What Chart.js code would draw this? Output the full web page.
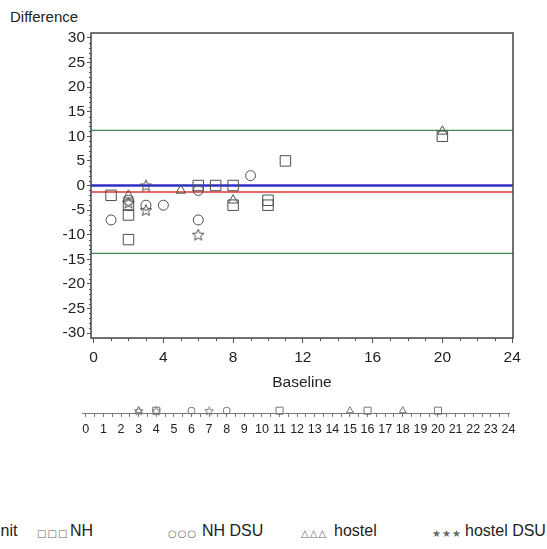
<!DOCTYPE html>
<html>
<head>
<meta charset="utf-8">
<script src="https://cdn.jsdelivr.net/npm/chart.js@4.4.1/dist/chart.umd.min.js"></script>
<style>
  body { margin: 0; width: 547px; height: 549px; overflow: hidden; background: #fff; position: relative;
         font-family: "Liberation Sans", Arial, sans-serif; color: #222; }
  #main { position: absolute; left: 0; top: 0; }
  #rug { position: absolute; left: 0; top: 380px; }
  #ytitle { position: absolute; left: 10px; top: 8px; font-size: 15px; line-height: 18px; }
  #legend { position: absolute; left: 0; top: 522px; width: 547px; height: 20px; font-size: 16px; line-height: 18px; white-space: nowrap; }
  #legend span { position: absolute; top: 0; }
  #legend span.sym { font-size: 10px; color: #666; letter-spacing: 1px; top: 3px; font-family: "DejaVu Sans", sans-serif; }
</style>
</head>
<body>
<div id="ytitle">Difference</div>
<canvas id="main" width="547" height="400"></canvas>
<canvas id="rug" width="547" height="70"></canvas>
<div id="legend">
  <span style="left:-11px">Unit</span>
  <span class="sym" style="left:37px">□□□</span><span style="left:70px">NH</span>
  <span class="sym" style="left:168px">○○○</span><span style="left:202px">NH DSU</span>
  <span class="sym" style="left:301px">△△△</span><span style="left:334px">hostel</span>
  <span class="sym" style="left:432px">★★★</span><span style="left:465px">hostel DSU</span>
</div>
<script>
// baseline vs. difference, one array pair per unit type
const nhX = [1, 2, 2, 2, 6, 7, 8, 8, 10, 10, 11, 20];
const nhY = [-2, -4, -6, -11, 0, 0, 0, -4, -3, -4, 5, 10];
const nhDsuX = [1, 2, 3, 4, 6, 6, 9];
const nhDsuY = [-7, -3, -4, -4, -1, -7, 2];
const hostelX = [2, 5, 8, 20];
const hostelY = [-2, -1, -3, 11];
const hostelDsuX = [2, 3, 3, 6];
const hostelDsuY = [-3.5, 0, -5, -10];

// mean difference and limits of agreement
const meanDiff = -1.3;
const limits = [11.2, -13.8];
const zeroLevel = 0;

const xTicks = [0, 4, 8, 12, 16, 20, 24];
const yTicks = [-30, -25, -20, -15, -10, -5, 0, 5, 10, 15, 20, 25, 30];

// strip along the bottom
const rugNhX = [4, 11, 16, 20];
const rugNhDsuX = [6, 8];
const rugHostelX = [3, 15, 18];
const rugHostelDsuX = [3, 4, 7];
const rugLabels = [0, 1, 2, 3, 4, 5, 6, 7, 8, 9, 10, 11, 12, 13, 14, 15, 16, 17, 18, 19, 20, 21, 22, 23, 24];

const markColor = '#4d4d4d';
const xMin = -0.15, xMax = 24.05;

function pairs(xs, ys) { return xs.map((x, i) => ({ x: x, y: ys[i] })); }

function starImage(outer, color) {
  const size = Math.ceil(outer * 2 + 2);
  const c = document.createElement('canvas');
  c.width = size; c.height = size;
  const g = c.getContext('2d');
  const cx = size / 2, cy = size / 2 + 0.5, inner = outer * 0.45;
  g.beginPath();
  for (let i = 0; i < 10; i++) {
    const r = i % 2 ? inner : outer;
    const a = -Math.PI / 2 + i * Math.PI / 5;
    const px = cx + r * Math.cos(a), py = cy + r * Math.sin(a);
    i ? g.lineTo(px, py) : g.moveTo(px, py);
  }
  g.closePath();
  g.strokeStyle = color;
  g.lineWidth = 1;
  g.stroke();
  return c;
}

function hline(y, color, width) {
  return {
    type: 'line', data: [{ x: xMin, y: y }, { x: xMax, y: y }],
    borderColor: color, borderWidth: width, pointRadius: 0, order: 2
  };
}

function marks(data, style, radius) {
  return {
    type: 'scatter', data: data, pointStyle: style, pointRadius: radius,
    borderColor: markColor, borderWidth: 1, backgroundColor: 'rgba(0,0,0,0)', order: 1
  };
}

// box around the plot plus the small unlabelled ticks
const framePlugin = {
  id: 'frame',
  afterDatasetsDraw(chart) {
    const { ctx, chartArea: a, scales: { x, y } } = chart;
    ctx.save();
    ctx.strokeStyle = '#555';
    ctx.lineWidth = 1;
    ctx.beginPath();
    for (let v = 1; v < 24; v++) {
      if (v % 4 === 0) continue;
      const px = Math.round(x.getPixelForValue(v)) + 0.5;
      ctx.moveTo(px, a.bottom); ctx.lineTo(px, a.bottom + 3);
    }
    for (let v = -30; v <= 30; v++) {
      if (v % 5 === 0) continue;
      const py = Math.round(y.getPixelForValue(v)) + 0.5;
      ctx.moveTo(a.left, py); ctx.lineTo(a.left - 2, py);
    }
    ctx.stroke();
    ctx.strokeStyle = '#444';
    ctx.lineWidth = 1.5;
    ctx.strokeRect(a.left, a.top, a.right - a.left, a.bottom - a.top);
    ctx.restore();
  }
};

const tickFont = { family: '"Liberation Sans", Arial, sans-serif', size: 15.5 };

new Chart(document.getElementById('main'), {
  data: {
    datasets: [
      hline(limits[0], '#3c8c50', 1.2),
      hline(limits[1], '#3c8c50', 1.2),
      hline(meanDiff, '#e03535', 1.5),
      hline(zeroLevel, '#2f2fc8', 2.5),
      marks(pairs(nhX, nhY), 'rect', 7.4),
      marks(pairs(nhDsuX, nhDsuY), 'circle', 5),
      marks(pairs(hostelX, hostelY), 'triangle', 5.5),
      marks(pairs(hostelDsuX, hostelDsuY), starImage(6, markColor), 6)
    ]
  },
  options: {
    responsive: false,
    animation: false,
    devicePixelRatio: 1,
    layout: { padding: { top: 33, right: 34, bottom: 8, left: 0 } },
    plugins: { legend: { display: false }, tooltip: { enabled: false } },
    scales: {
      x: {
        type: 'linear', min: xMin, max: xMax,
        afterBuildTicks: s => { s.ticks = xTicks.map(v => ({ value: v })); },
        afterFit: s => { s.height = 54; },
        border: { display: false },
        grid: { drawOnChartArea: false, tickLength: 5, color: '#555' },
        ticks: { color: '#222', font: tickFont, padding: 5, maxRotation: 0, autoSkip: false },
        title: { display: true, text: 'Baseline', color: '#222', font: tickFont, padding: { top: 2, bottom: 0 } }
      },
      y: {
        type: 'linear', min: -31, max: 31,
        afterBuildTicks: s => { s.ticks = yTicks.map(v => ({ value: v })); },
        afterFit: s => { s.width = 91; },
        border: { display: false },
        grid: { drawOnChartArea: false, tickLength: 4, color: '#555' },
        ticks: { color: '#222', font: tickFont, padding: 2, autoSkip: false }
      }
    }
  },
  plugins: [framePlugin]
});

// rug strip: markers sit on the axis line
function rugMarks(xs, style, radius) {
  return {
    type: 'scatter', data: xs.map(x => ({ x: x, y: 0 })), pointStyle: style, pointRadius: radius,
    borderColor: '#777', borderWidth: 1, backgroundColor: 'rgba(0,0,0,0)', clip: false
  };
}

const rugTicks = [];
rugLabels.forEach((v, i) => { rugTicks.push(v); if (i < rugLabels.length - 1) rugTicks.push(v + 0.5); });

new Chart(document.getElementById('rug'), {
  data: {
    datasets: [
      rugMarks(rugNhX, 'rect', 5),
      rugMarks(rugNhDsuX, 'circle', 3.5),
      rugMarks(rugHostelX, 'triangle', 4),
      rugMarks(rugHostelDsuX, starImage(4.5, '#777'), 4.5)
    ]
  },
  options: {
    responsive: false,
    animation: false,
    devicePixelRatio: 1,
    layout: { padding: { top: 25, right: 37.7, bottom: 0, left: 82.3 } },
    plugins: { legend: { display: false }, tooltip: { enabled: false } },
    scales: {
      x: {
        type: 'linear', min: -0.2, max: 24.05,
        afterBuildTicks: s => { s.ticks = rugTicks.map(v => ({ value: v })); },
        afterFit: s => { s.height = 37; },
        border: { display: true, color: '#777', width: 1 },
        grid: { drawOnChartArea: false, tickLength: 4, color: '#777' },
        ticks: {
          color: '#222', padding: 5, maxRotation: 0, autoSkip: false,
          font: { family: '"Liberation Sans", Arial, sans-serif', size: 12.5 },
          callback: v => Number.isInteger(v) ? String(v) : ''
        }
      },
      y: { type: 'linear', min: -0.4, max: 1, display: false }
    }
  }
});
</script>
</body>
</html>
